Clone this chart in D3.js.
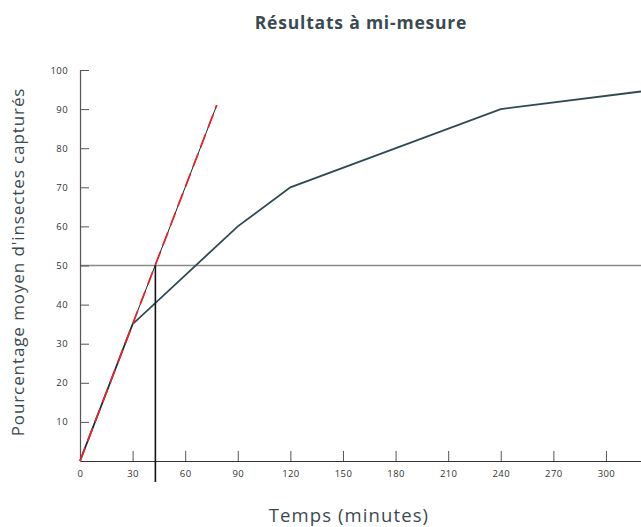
<!DOCTYPE html>
<html>
<head>
    <meta charset="UTF-8">
    <title>Résultats à mi-mesure</title>
    <script src="https://d3js.org/d3.v7.min.js"></script>
    <style>
        body { margin: 0; background: #fff; }
        svg text { font-family: "Open Sans", Lato, sans-serif; }
    </style>
</head>
<body>
<div id="chart"></div>
<script>
    // data
    var minutes = [0, 30, 90, 120, 240, 320];
    var percent = [0, 35, 60, 70, 90, 94.5];
    var xTicks = [0, 30, 60, 90, 120, 150, 180, 210, 240, 270, 300];
    var yTicks = [10, 20, 30, 40, 50, 60, 70, 80, 90, 100];
    // tangent at the origin, and the half-measure marker
    var tangentX = [0, 78];
    var tangentY = [0, 91];
    var halfValue = 50;
    var halfTime = 43;

    var width = 641, height = 527;

    var svg = d3.select("#chart").append("svg")
        .attr("width", width)
        .attr("height", height);

    var x = d3.scaleLinear().domain([0, 320]).range([80, 641]);
    var y = d3.scaleLinear().domain([0, 100]).range([461, 70]);

    // title
    svg.append("text")
        .attr("x", 361).attr("y", 29)
        .attr("text-anchor", "middle")
        .attr("font-size", "17.5px")
        .attr("font-weight", "bold")
        .attr("letter-spacing", "0.8px")
        .attr("fill", "#3b4a52")
        .text("Résultats à mi-mesure");

    // horizontal line at 50%
    svg.append("line")
        .attr("x1", x(0)).attr("x2", x(320))
        .attr("y1", y(halfValue)).attr("y2", y(halfValue))
        .attr("stroke", "#8a8a8a")
        .attr("stroke-width", 1.3);

    // x axis, ticks pointing up
    var xAxis = svg.append("g")
        .attr("transform", "translate(0," + y(0) + ")")
        .call(d3.axisBottom(x).tickValues(xTicks).tickSize(0).tickPadding(9));
    xAxis.select(".domain").attr("stroke", "#333").attr("stroke-width", 1.2);
    xAxis.selectAll(".tick").filter(function(d){ return d !== 0; })
        .append("line")
        .attr("y1", 0).attr("y2", -10)
        .attr("stroke", "#555");
    xAxis.selectAll("text")
        .attr("fill", "#333")
        .attr("letter-spacing", "0.4px")
        .attr("font-size", "9.5px");

    // y axis, ticks pointing right
    var yAxis = svg.append("g")
        .attr("transform", "translate(" + x(0) + ",0)")
        .call(d3.axisLeft(y).tickValues(yTicks).tickSize(0).tickPadding(12));
    yAxis.select(".domain").attr("stroke", "#555").attr("stroke-width", 1.2);
    yAxis.selectAll(".tick")
        .append("line")
        .attr("x1", 0).attr("x2", 9)
        .attr("stroke", "#555");
    yAxis.selectAll("text")
        .attr("fill", "#333")
        .attr("letter-spacing", "0.4px")
        .attr("font-size", "9.5px");

    // main curve
    var line = d3.line()
        .x(function(d){ return x(d[0]); })
        .y(function(d){ return y(d[1]); });

    svg.append("path")
        .datum(d3.zip(minutes, percent))
        .attr("d", line)
        .attr("fill", "none")
        .attr("stroke", "#2f4a53")
        .attr("stroke-width", 1.8);

    // tangent: thin black line with red dashes on top
    var tangent = d3.zip(tangentX, tangentY);
    svg.append("path")
        .datum(tangent)
        .attr("d", line)
        .attr("fill", "none")
        .attr("stroke", "#222")
        .attr("stroke-width", 1);
    svg.append("path")
        .datum(tangent)
        .attr("d", line)
        .attr("fill", "none")
        .attr("stroke", "#e8232a")
        .attr("stroke-width", 1.8)
        .attr("stroke-dasharray", "14,7");

    // vertical marker at half time
    svg.append("line")
        .attr("x1", x(halfTime)).attr("x2", x(halfTime))
        .attr("y1", y(halfValue)).attr("y2", 482)
        .attr("stroke", "#111")
        .attr("stroke-width", 1.6);

    // axis titles
    svg.append("text")
        .attr("x", 349).attr("y", 522)
        .attr("text-anchor", "middle")
        .attr("font-size", "18.5px")
        .attr("letter-spacing", "1.1px")
        .attr("fill", "#3b4a52")
        .text("Temps (minutes)");

    svg.append("text")
        .attr("transform", "translate(24,262) rotate(-90)")
        .attr("text-anchor", "middle")
        .attr("font-size", "17px")
        .attr("letter-spacing", "0.9px")
        .attr("fill", "#3b4a52")
        .text("Pourcentage moyen d'insectes capturés");
</script>
</body>
</html>
